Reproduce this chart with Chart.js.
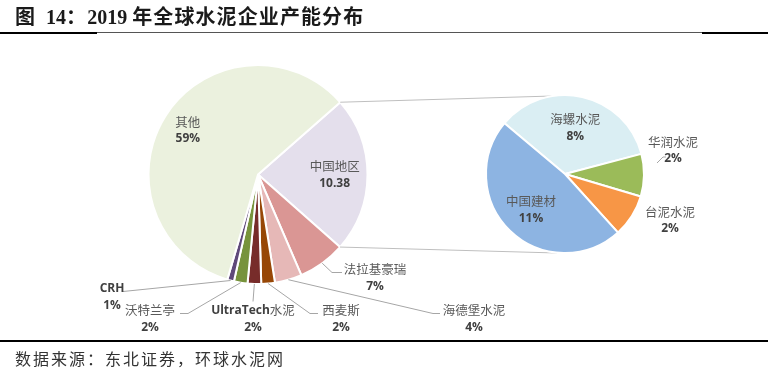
<!DOCTYPE html>
<html>
<head>
<meta charset="utf-8">
<script src="https://cdn.jsdelivr.net/npm/chart.js@4/dist/chart.umd.min.js"></script>
<style>
  body { margin: 0; background: #fff; }
  #wrap { position: relative; width: 768px; height: 376px; overflow: hidden; }
  canvas { position: absolute; left: 0; top: 0; }
  #title { position: absolute; left: 15px; top: 1px; font: bold 20px "Liberation Serif", "Noto Sans CJK SC", serif; color: #1a1a1a; white-space: nowrap; z-index: 5; }
  #title .cn { letter-spacing: 1.1px; }
  .rule { position: absolute; background: #000; z-index: 5; }
  #source { position: absolute; left: 15px; top: 346px; font: 16px "Noto Sans CJK SC", serif; color: #333; letter-spacing: 2px; white-space: nowrap; z-index: 5; }
</style>
</head>
<body>
<div id="wrap">
  <div id="title"><span class="cn">图</span><span style="margin-left:10px">14</span><span class="cn">：</span><span>2019</span><span class="cn" style="margin-left:5px">年全球水泥企业产能分布</span></div>
  <div class="rule" style="left:0;top:32px;width:768px;height:1px;background:#555"></div>
  <div class="rule" style="left:0;top:32px;width:97px;height:2px"></div>
  <div class="rule" style="left:702px;top:32px;width:66px;height:2px"></div>
  <canvas id="mainPie" width="768" height="376" style="z-index:1"></canvas>
  <canvas id="detailPie" width="768" height="376" style="z-index:2"></canvas>
  <div class="rule" style="left:0;top:340px;width:768px;height:2px"></div>
  <div id="source">数据来源：东北证券，环球水泥网</div>
</div>
<script>
"use strict";

// main pie: global capacity share (%), 中国地区 is split out in the right pie
const mainNames = ["中国地区", "法拉基豪瑞", "海德堡水泥", "西麦斯", "UltraTech水泥", "沃特兰亭", "CRH", "其他"];
const mainValues = [23, 7, 4, 2, 2, 2, 1, 59];
const mainTexts = ["10.38", "7%", "4%", "2%", "2%", "2%", "1%", "59%"];
const mainColors = ["#E4DFEC", "#DA9694", "#E6B8B7", "#974706", "#772C2A", "#77933C", "#5F497A", "#EBF1DE"];

// right pie: chinese companies
const chinaNames = ["海螺水泥", "华润水泥", "台泥水泥", "中国建材"];
const chinaValues = [8, 2, 2, 11];
const chinaTexts = ["8%", "2%", "2%", "11%"];
const chinaColors = ["#DAEEF3", "#9BBB59", "#F79646", "#8DB4E2"];

// label placement: inside = fraction of radius on mid angle, otherwise offset from pie centre
const mainPlace = [
  {inside: 0.7},
  {dx: 117, dy: 95, line: [[74, 98], [84, 98]]},
  {dx: 216, dy: 136, line: [[175, 139], [182, 139]]},
  {dx: 83, dy: 136, line: [[52, 139], [60, 139]]},
  {dx: -5, dy: 136, line: [[-5, 127]]},
  {dx: -108, dy: 136, line: [[-70, 139], [-78, 139]]},
  {dx: -146, dy: 114, line: [[-135, 117]]},
  {inside: 0.76}
];
const chinaPlace = [
  {inside: 0.6},
  {dx: 108, dy: -32, free: [[92, -11], [98, -17], [101, -17]]},
  {dx: 105, dy: 38},
  {inside: 0.62}
];

const CN_FONT = '12.5px "Noto Sans CJK SC", sans-serif';
const EN_FONT = 'bold 12px "Open Sans", sans-serif';

// latin part in bold sans, chinese part in plain CJK font
function drawName(ctx, name, x, y) {
  const m = name.match(/^([A-Za-z]*)(.*)$/);
  const en = m[1], cn = m[2];
  ctx.font = EN_FONT;
  const wEn = ctx.measureText(en).width;
  ctx.font = CN_FONT;
  const wCn = ctx.measureText(cn).width;
  let left = x - (wEn + wCn) / 2;
  ctx.textAlign = "left";
  if (en) {
    ctx.font = EN_FONT;
    ctx.fillStyle = "#404040";
    ctx.fillText(en, left, y);
    left += wEn;
  }
  ctx.font = CN_FONT;
  ctx.fillStyle = "#595959";
  ctx.fillText(cn, left, y);
}

const sliceLabels = {
  id: "sliceLabels",
  afterDatasetsDraw(chart, args, opts) {
    const ctx = chart.ctx;
    const arcs = chart.getDatasetMeta(0).data;
    ctx.save();
    arcs.forEach((arc, i) => {
      const p = opts.place[i];
      const mid = (arc.startAngle + arc.endAngle) / 2;
      const r = arc.outerRadius;
      let x, y;
      if (p.inside) {
        x = arc.x + Math.cos(mid) * r * p.inside;
        y = arc.y + Math.sin(mid) * r * p.inside - 8;
      } else {
        x = arc.x + p.dx;
        y = arc.y + p.dy;
        ctx.strokeStyle = "#a6a6a6";
        ctx.lineWidth = 1;
        ctx.beginPath();
        if (p.line) {
          ctx.moveTo(arc.x + Math.cos(mid) * r, arc.y + Math.sin(mid) * r);
          p.line.forEach(q => ctx.lineTo(arc.x + q[0], arc.y + q[1]));
          ctx.stroke();
        } else if (p.free) {
          ctx.moveTo(arc.x + p.free[0][0], arc.y + p.free[0][1]);
          p.free.slice(1).forEach(q => ctx.lineTo(arc.x + q[0], arc.y + q[1]));
          ctx.stroke();
        }
      }
      ctx.textBaseline = "middle";
      drawName(ctx, chart.data.labels[i], x, y);
      ctx.textAlign = "center";
      ctx.fillStyle = "#404040";
      ctx.font = EN_FONT;
      ctx.fillText(opts.texts[i], x, y + 17);
    });
    ctx.restore();
  }
};

// grey lines joining 中国地区 slice to the right pie
const connectors = {
  id: "connectors",
  afterDatasetsDraw(chart, args, opts) {
    const other = opts.target.getDatasetMeta(0).data[0];
    const arc = chart.getDatasetMeta(0).data[0];
    const ctx = chart.ctx;
    const r = arc.outerRadius, r2 = other.outerRadius;
    ctx.save();
    ctx.strokeStyle = "#bfbfbf";
    ctx.lineWidth = 1;
    ctx.beginPath();
    ctx.moveTo(arc.x + Math.cos(arc.startAngle) * r, arc.y + Math.sin(arc.startAngle) * r);
    ctx.lineTo(other.x + Math.cos(-Math.PI / 2 - 0.16) * r2, other.y + Math.sin(-Math.PI / 2 - 0.16) * r2);
    ctx.moveTo(arc.x + Math.cos(arc.endAngle) * r, arc.y + Math.sin(arc.endAngle) * r);
    ctx.lineTo(other.x - 8, other.y + r2);
    ctx.stroke();
    ctx.restore();
  }
};

const detailChart = new Chart(document.getElementById("detailPie"), {
  type: "pie",
  data: {
    labels: chinaNames,
    datasets: [{data: chinaValues, backgroundColor: chinaColors, borderColor: "#fff", borderWidth: 2}]
  },
  options: {
    responsive: false,
    animation: false,
    rotation: 310,
    layout: {padding: {left: 485, right: 123, top: 94, bottom: 122}},
    plugins: {
      legend: {display: false},
      tooltip: {enabled: false},
      sliceLabels: {place: chinaPlace, texts: chinaTexts}
    }
  },
  plugins: [sliceLabels]
});

new Chart(document.getElementById("mainPie"), {
  type: "pie",
  data: {
    labels: mainNames,
    datasets: [{data: mainValues, backgroundColor: mainColors, borderColor: "#fff", borderWidth: 2}]
  },
  options: {
    responsive: false,
    animation: false,
    rotation: 48.7,
    layout: {padding: {left: 147, right: 399, top: 64, bottom: 91}},
    plugins: {
      legend: {display: false},
      tooltip: {enabled: false},
      sliceLabels: {place: mainPlace, texts: mainTexts},
      connectors: {target: detailChart}
    }
  },
  plugins: [connectors, sliceLabels]
});
</script>
</body>
</html>
